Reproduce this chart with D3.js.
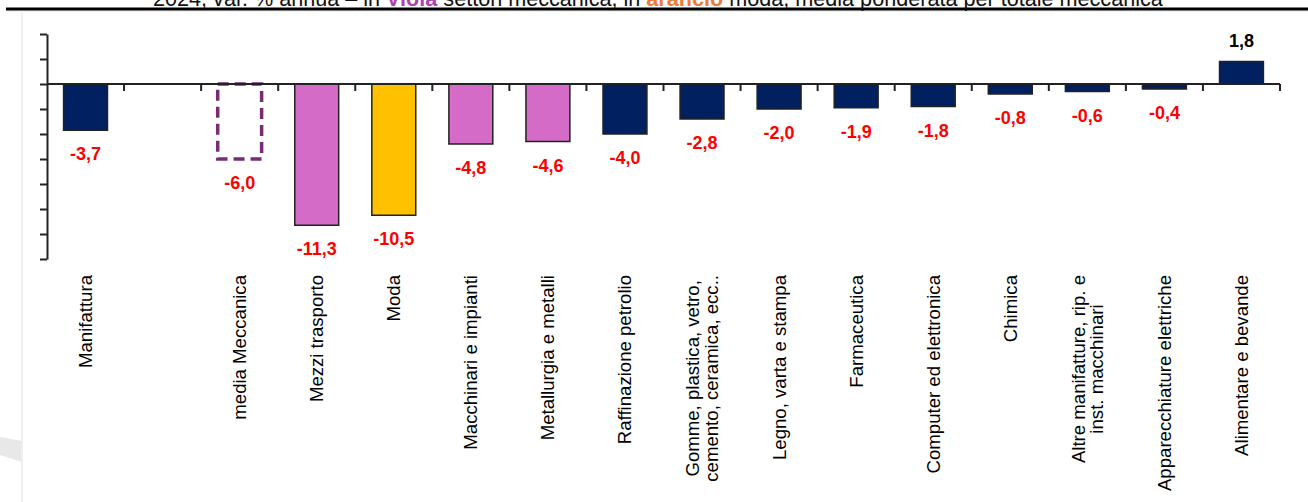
<!DOCTYPE html>
<html>
<head>
<meta charset="utf-8">
<script src="https://cdn.jsdelivr.net/npm/d3@7"></script>
<style>
  body { margin: 0; background: #fff; }
  svg { display: block; font-family: "Liberation Sans", Arial, sans-serif; }
</style>
</head>
<body>
<svg id="chart" width="1308" height="502"></svg>
<script>
// data
var categories = [
  ["Manifattura"],
  [""],
  ["media Meccanica"],
  ["Mezzi trasporto"],
  ["Moda"],
  ["Macchinari e impianti"],
  ["Metallurgia e metalli"],
  ["Raffinazione petrolio"],
  ["Gomme, plastica, vetro,", "cemento, ceramica, ecc.."],
  ["Legno, varta e stampa"],
  ["Farmaceutica"],
  ["Computer ed elettronica"],
  ["Chimica"],
  ["Altre manifatture, rip. e", "inst. macchinari"],
  ["Apparecchiature elettriche"],
  ["Alimentare e bevande"]
];
var values = [-3.7, null, -6.0, -11.3, -10.5, -4.8, -4.6, -4.0, -2.8, -2.0, -1.9, -1.8, -0.8, -0.6, -0.4, 1.8];
// group: m = manifattura/altri, avg = media meccanica, mec = settori meccanica, moda
var groups = ["m", "", "avg", "mec", "moda", "mec", "mec", "m", "m", "m", "m", "m", "m", "m", "m", "m"];
var yTicks = [-14, -12, -10, -8, -6, -4, -2, 0, 2, 4];

var fills = { m: "#002060", mec: "#d46cc7", moda: "#ffc000", avg: "none" };

var svg = d3.select("#chart");

// decorations: top rule, faint frame line, grey wedge at left
svg.append("polygon")
  .attr("points", "0,437 22,441 22,462 0,455")
  .style("fill", "#e8e8e8");
svg.append("line")
  .attr("x1", 22).attr("x2", 22).attr("y1", 12).attr("y2", 502)
  .attr("stroke", "#efefef").attr("stroke-width", 2);
svg.append("line")
  .attr("x1", 6).attr("x2", 1308).attr("y1", 11).attr("y2", 11)
  .attr("stroke", "#e6e6e6").attr("stroke-width", 1);
svg.append("line")
  .attr("x1", 6).attr("x2", 1308).attr("y1", 9).attr("y2", 9)
  .attr("stroke", "#000").attr("stroke-width", 3);

// title (cut off at the top in the original)
var title = svg.append("text")
  .attr("y", 6)
  .attr("x", 153)
  .style("font-size", "20px")
  .style("fill", "#111");
title.append("tspan").text("2024, var. % annua \u2013 in ");
title.append("tspan").style("fill", "#b03fb0").style("font-weight", "bold").text("Viola");
title.append("tspan").text(" settori meccanica, in ");
title.append("tspan").style("fill", "#f07a35").style("font-weight", "bold").text("arancio");
title.append("tspan").text(" moda, media ponderata per totale meccanica");
var tw = title.node().getComputedTextLength();
title.style("font-size", (20 * 1010 / tw) + "px");

var x = d3.scaleBand()
  .domain(d3.range(categories.length))
  .range([47, 1280])
  .paddingInner(0.43)
  .paddingOuter(0.215);

var y = d3.scaleLinear()
  .domain([-14, 4])
  .range([259, 34]);

// y axis: ticks only, no labels
svg.append("g")
  .attr("transform", "translate(47,0)")
  .call(d3.axisLeft(y).tickValues(yTicks).tickSize(7).tickSizeOuter(0).tickFormat(""))
  .call(function(g) {
    g.select(".domain").attr("stroke", "#222").attr("stroke-width", 2);
    g.selectAll(".tick line").attr("stroke", "#222").attr("stroke-width", 2);
  });

// bars
svg.append("g").selectAll("rect")
  .data(values.map(function(v, i) { return { v: v, i: i, g: groups[i] }; })
    .filter(function(d) { return d.v !== null; }))
  .enter().append("rect")
  .attr("x", function(d) { return x(d.i); })
  .attr("width", x.bandwidth())
  .attr("y", function(d) { return y(Math.max(0, d.v)); })
  .attr("height", function(d) { return Math.abs(y(d.v) - y(0)); })
  .style("fill", function(d) { return fills[d.g]; })
  .style("stroke", function(d) { return d.g === "avg" ? "#772c77" : "#222"; })
  .style("stroke-width", function(d) { return d.g === "avg" ? 3.5 : 1.5; })
  .style("stroke-dasharray", function(d) { return d.g === "avg" ? "11,6" : null; });

// x axis at zero, ticks between categories
var step = x.step();
svg.append("line")
  .attr("x1", 47).attr("x2", 1280)
  .attr("y1", y(0)).attr("y2", y(0))
  .attr("stroke", "#222").attr("stroke-width", 2);
svg.append("g").selectAll("line")
  .data(d3.range(1, categories.length + 1))
  .enter().append("line")
  .attr("x1", function(d) { return 47 + d * step; })
  .attr("x2", function(d) { return 47 + d * step; })
  .attr("y1", y(0)).attr("y2", y(0) + 7)
  .attr("stroke", "#222").attr("stroke-width", 2);

// value labels
svg.append("g").selectAll("text")
  .data(values.map(function(v, i) { return { v: v, i: i }; })
    .filter(function(d) { return d.v !== null; }))
  .enter().append("text")
  .attr("x", function(d) { return x(d.i) + x.bandwidth() / 2; })
  .attr("y", function(d) { return d.v < 0 ? y(d.v) + 30 : y(d.v) - 15; })
  .attr("text-anchor", "middle")
  .style("font-size", "18px")
  .style("font-weight", "bold")
  .style("fill", function(d) { return d.v < 0 ? "#ff0000" : "#000"; })
  .text(function(d) { return d3.format(".1f")(d.v).replace(".", ",").replace("\u2212", "-"); });

// category labels, rotated, top aligned at y = 275
var lineH = 18.5;
var labels = svg.append("g").selectAll("g")
  .data(categories)
  .enter().append("g")
  .attr("transform", function(d, i) {
    return "translate(" + (x(i) + x.bandwidth() / 2) + ",275) rotate(-90)";
  });

labels.each(function(lines) {
  var t = d3.select(this).append("text")
    .attr("text-anchor", "middle")
    .style("font-size", "18.6px")
    .style("fill", "#000");
  lines.forEach(function(s, k) {
    t.append("tspan")
      .attr("x", 0)
      .attr("y", (k - (lines.length - 1) / 2) * lineH)
      .attr("dy", "0.35em")
      .text(s);
  });
  var L = 0;
  t.selectAll("tspan").each(function() { L = Math.max(L, this.getComputedTextLength()); });
  t.selectAll("tspan").attr("x", -L / 2);
});
</script>
</body>
</html>
